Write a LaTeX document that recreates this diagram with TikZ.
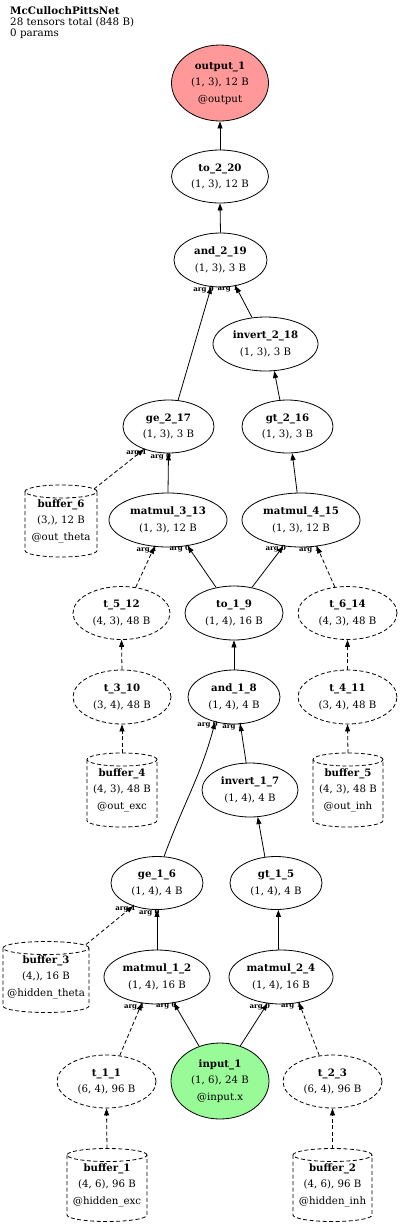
\documentclass[tikz,border=0pt]{standalone}
\usepackage{fontspec}
\setmainfont{DejaVu Serif}
\usetikzlibrary{shapes.geometric,arrows.meta,calc}
\definecolor{outfill}{HTML}{FF9999}
\definecolor{infill}{HTML}{98FB98}
\tikzset{
 base/.style={line width=0.8pt},
 opnode/.style={ellipse, draw, base, inner sep=0pt},
 tnode/.style={opnode, dash pattern=on 4pt off 2.5pt},
 outnode/.style={opnode, fill=outfill},
 innode/.style={opnode, fill=infill},
 bufbox/.style={rectangle, inner sep=0pt, outer sep=0pt},
 cyl/.style={base, dash pattern=on 4pt off 2.5pt},
 txt/.style={inner sep=0pt, align=center, font=\fontsize{10.2}{16.5}\selectfont},
 hdr/.style={inner sep=0pt, align=left, anchor=north west, font=\fontsize{10.3}{11.4}\selectfont},
 edge/.style={base, -{Triangle[length=7pt,width=5pt]}},
 dedge/.style={edge, dash pattern=on 4pt off 2.5pt},
 argl/.style={inner sep=0pt, anchor=east, xshift=3pt, yshift=-3pt, font=\fontsize{7}{8}\selectfont\bfseries},
}
% style, name, x, y, w, h, text
\newcommand\enode[7]{%
  \node[#1, minimum width=#5pt, minimum height=#6pt] (#2) at (#3pt,-#4pt) {};
  \node[txt] (#2-t) at (#2.center) {#7};
}
% name, x, y, w, h, text
\newcommand\bnode[6]{%
  \node[bufbox, minimum width=#4pt, minimum height=#5pt] (#1) at (#2pt,-#3pt) {};
  \draw[cyl] ($(#1.north)+(0,-6.5pt)$) ellipse [x radius=#4pt/2, y radius=6.5pt];
  \draw[cyl] ($(#1.north west)+(0,-6.5pt)$) -- ($(#1.south west)+(0,6.5pt)$)
     arc[start angle=180, end angle=360, x radius=#4pt/2, y radius=6.5pt]
     -- ($(#1.north east)+(0,-6.5pt)$);
  \node[txt] (#1-t) at (#1.center) {#6};
}
\begin{document}
\begin{tikzpicture}[x=1pt,y=1pt]
\useasboundingbox (0,0) rectangle (400,-1227);
\node[hdr] (hdr) at (10,-6) {\textbf{McCullochPittsNet}\\28 tensors total (848 B)\\0 params};

\enode{outnode}{output1}{220}{83}{97}{76}{\textbf{output\_1}\\(1, 3), 12 B\\@output}
\enode{opnode}{to220}{220}{176.5}{97}{53}{\textbf{to\_2\_20}\\(1, 3), 12 B}
\enode{opnode}{and219}{220.5}{260}{93}{54}{\textbf{and\_2\_19}\\(1, 3), 3 B}
\enode{opnode}{inv218}{265.5}{344}{105}{54}{\textbf{invert\_2\_18}\\(1, 3), 3 B}
\enode{opnode}{ge217}{168.5}{426.5}{91}{53}{\textbf{ge\_2\_17}\\(1, 3), 3 B}
\enode{opnode}{gt216}{287.5}{426.5}{91}{53}{\textbf{gt\_2\_16}\\(1, 3), 3 B}
\bnode{buf6}{61}{521}{72}{72}{\textbf{buffer\_6}\\(3,), 12 B\\@out\_theta}
\enode{opnode}{mm313}{168}{520}{118}{54}{\textbf{matmul\_3\_13}\\(1, 3), 12 B}
\enode{opnode}{mm415}{301}{520}{118}{54}{\textbf{matmul\_4\_15}\\(1, 3), 12 B}
\enode{tnode}{t512}{121.5}{613}{97}{53}{\textbf{t\_5\_12}\\(4, 3), 48 B}
\enode{opnode}{to19}{234}{613}{98}{54}{\textbf{to\_1\_9}\\(1, 4), 16 B}
\enode{tnode}{t614}{347.5}{613}{99}{53}{\textbf{t\_6\_14}\\(4, 3), 48 B}
\enode{tnode}{t310}{122}{697}{98}{54}{\textbf{t\_3\_10}\\(3, 4), 48 B}
\enode{opnode}{and18}{234}{697}{92}{54}{\textbf{and\_1\_8}\\(1, 4), 4 B}
\enode{tnode}{t411}{347.5}{697}{99}{54}{\textbf{t\_4\_11}\\(3, 4), 48 B}
\bnode{buf4}{122}{790}{70}{74}{\textbf{buffer\_4}\\(4, 3), 48 B\\@out\_exc}
\enode{opnode}{inv17}{250}{790}{96}{54}{\textbf{invert\_1\_7}\\(1, 4), 4 B}
\bnode{buf5}{348}{790}{70}{74}{\textbf{buffer\_5}\\(4, 3), 48 B\\@out\_inh}
\enode{opnode}{ge16}{157}{883}{92}{53}{\textbf{ge\_1\_6}\\(1, 4), 4 B}
\enode{opnode}{gt15}{276}{883}{92}{53}{\textbf{gt\_1\_5}\\(1, 4), 4 B}
\bnode{buf3}{46}{977}{86}{71}{\textbf{buffer\_3}\\(4,), 16 B\\@hidden\_theta}
\enode{opnode}{mm12}{157}{977}{106}{54}{\textbf{matmul\_1\_2}\\(1, 4), 16 B}
\enode{opnode}{mm24}{281}{977}{104}{54}{\textbf{matmul\_2\_4}\\(1, 4), 16 B}
\enode{tnode}{t11}{106.5}{1081.5}{99}{53}{\textbf{t\_1\_1}\\(6, 4), 96 B}
\enode{innode}{in1}{220}{1081}{98}{76}{\textbf{input\_1}\\(1, 6), 24 B\\@input.x}
\enode{tnode}{t23}{332.5}{1081.5}{99}{53}{\textbf{t\_2\_3}\\(6, 4), 96 B}
\bnode{buf1}{107}{1185}{80}{73}{\textbf{buffer\_1}\\(4, 6), 96 B\\@hidden\_exc}
\bnode{buf2}{332.5}{1185}{79}{73}{\textbf{buffer\_2}\\(4, 6), 96 B\\@hidden\_inh}

\draw[edge] (to220.north) -- (output1.south);
\draw[edge] (and219.north) -- (to220.south);
\draw[edge] (ge217.70) -- (and219.-109) node[argl] (l1) {arg 0};
\draw[edge] (inv218.117) -- (and219.-60) node[argl] (l2) {arg 1};
\draw[edge] (gt216.106) -- (inv218.-72);
\draw[dedge] ($(buf6.north east)+(-3,-4)$) -- (ge217.-137) node[argl] (l3) {arg 1};
\draw[edge] (mm313.north) -- (ge217.south) node[argl] (l4) {arg 0};
\draw[edge] (mm415.98) -- (gt216.-80);
\draw[dedge] (t512.61) -- (mm313.-117) node[argl] (l5) {arg 1};
\draw[edge] (to19.125) -- (mm313.-53) node[argl] (l6) {arg 0};
\draw[edge] (to19.55) -- (mm415.-124) node[argl] (l7) {arg 0};
\draw[dedge] (t614.116) -- (mm415.-59) node[argl] (l8) {arg 1};
\draw[dedge] (t310.north) -- (t512.south);
\draw[edge] (and18.north) -- (to19.south);
\draw[dedge] (t411.north) -- (t614.south);
\draw[dedge] (buf4.north) -- (t310.south);
\draw[dedge] (buf5.north) -- (t411.south);
\draw[edge] (ge16.75) to[out=70,in=-105] (and18.-127) node[argl] (l9) {arg 0};
\draw[edge] (inv17.98) -- (and18.-77) node[argl] (l10) {arg 1};
\draw[edge] (gt15.113) -- (inv17.-74);
\draw[dedge] ($(buf3.north east)+(-3,-3)$) -- (ge16.-136) node[argl] (l11) {arg 1};
\draw[edge] (mm12.north) -- (ge16.south) node[argl] (l12) {arg 0};
\draw[edge] (mm24.95) -- (gt15.-85);
\draw[dedge] (t11.63) -- (mm12.-120) node[argl] (l13) {arg 1};
\draw[edge] (in1.121) -- (mm12.-57) node[argl] (l14) {arg 0};
\draw[edge] (in1.60) -- (mm24.-117) node[argl] (l15) {arg 0};
\draw[dedge] (t23.117) -- (mm24.-55) node[argl] (l16) {arg 1};
\draw[dedge] (buf1.north) -- (t11.south);
\draw[dedge] (buf2.north) -- (t23.south);
\end{tikzpicture}
\end{document}
